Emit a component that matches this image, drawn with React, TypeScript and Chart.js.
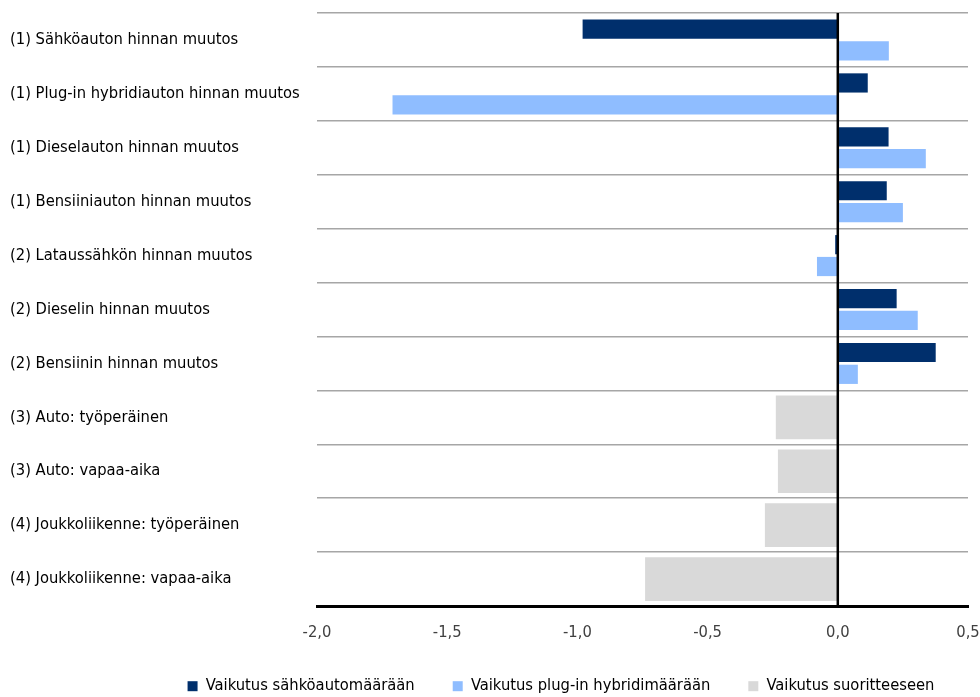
import React, { useEffect, useRef } from "react";
import { Chart, registerables } from "chart.js";

Chart.register(...registerables);

const categories = [
  "(1) Sähköauton hinnan muutos",
  "(1) Plug-in hybridiauton hinnan muutos",
  "(1) Dieselauton hinnan muutos",
  "(1) Bensiiniauton hinnan muutos",
  "(2) Lataussähkön hinnan muutos",
  "(2) Dieselin hinnan muutos",
  "(2) Bensiinin hinnan muutos",
  "(3) Auto: työperäinen",
  "(3) Auto: vapaa-aika",
  "(4) Joukkoliikenne: työperäinen",
  "(4) Joukkoliikenne: vapaa-aika",
];

const seriesNames = [
  "Vaikutus sähköautomäärään",
  "Vaikutus plug-in hybridimäärään",
  "Vaikutus suoritteeseen",
];

const sahkoauto = [-0.98, 0.115, 0.195, 0.188, -0.01, 0.226, 0.376, null, null, null, null];
const hybridi = [0.196, -1.71, 0.338, 0.25, -0.08, 0.307, 0.077, null, null, null, null];
const suorite = [null, null, null, null, null, null, null, -0.238, -0.23, -0.28, -0.74];

const xTicks = [-2.0, -1.5, -1.0, -0.5, 0.0, 0.5];

const FONT = "'Liberation Sans Narrow', 'DejaVu Sans Condensed', 'Arial Narrow', sans-serif";

const zeroLinePlugin = {
  id: "zeroLine",
  afterLayout(chart: any) {
    const lg = chart.legend;
    if (lg) {
      lg.left += 84;
      lg.right += 60;
      lg.top -= 11;
      lg.bottom = chart.height;
    }
  },
  afterDatasetsDraw(chart: any) {
    const x = chart.scales.x;
    const area = chart.chartArea;
    const px = x.getPixelForValue(0);
    const ctx = chart.ctx;
    ctx.save();
    ctx.strokeStyle = "#000000";
    ctx.lineWidth = 2.5;
    ctx.beginPath();
    ctx.moveTo(px, area.top);
    ctx.lineTo(px, area.bottom);
    ctx.stroke();
    ctx.restore();
  },
};

export default function App() {
  const ref = useRef<HTMLCanvasElement | null>(null);

  useEffect(() => {
    document.body.style.margin = "0";
    const canvas = ref.current;
    if (!canvas) return;
    const chart = new Chart(canvas, {
      type: "bar",
      data: {
        labels: categories,
        datasets: [
          {
            label: seriesNames[0],
            data: sahkoauto,
            backgroundColor: "#002f6c",
            barPercentage: 0.88,
            categoryPercentage: 0.81,
          },
          {
            label: seriesNames[1],
            data: hybridi,
            backgroundColor: "#8fbdff",
            barPercentage: 0.88,
            categoryPercentage: 0.81,
          },
          {
            label: seriesNames[2],
            data: suorite,
            backgroundColor: "#d9d9d9",
            barPercentage: 1.0,
            categoryPercentage: 0.81,
          },
        ],
      },
      plugins: [zeroLinePlugin],
      options: {
        indexAxis: "y",
        animation: false,
        responsive: false,
        skipNull: true,
        layout: { padding: { left: 10, right: 12, top: 13, bottom: 6 } },
        scales: {
          x: {
            type: "linear",
            min: -2,
            max: 0.5,
            afterBuildTicks: (scale: any) => {
              scale.ticks = xTicks.map((v) => ({ value: v }));
            },
            afterFit: (scale: any) => {
              scale.height = 45;
              scale.paddingRight = 0;
              scale.paddingLeft = 0;
            },
            ticks: {
              color: "#404040",
              font: { family: FONT, size: 16.4 },
              padding: 17,
              maxRotation: 0,
              callback: (v: any) => Number(v).toFixed(1).replace(".", ","),
            },
            grid: { display: false, drawTicks: false },
            border: { display: true, color: "#000000", width: 3 },
          },
          y: {
            type: "category",
            afterFit: (scale: any) => {
              scale.width = 307;
            },
            ticks: {
              color: "#000000",
              crossAlign: "far",
              font: { family: FONT, size: 16.4 },
              padding: 0,
            },
            grid: {
              display: true,
              color: "#a6a6a6",
              lineWidth: 1.5,
              drawTicks: false,
              offset: true,
            },
            border: { display: false },
          },
        },
        plugins: {
          legend: {
            position: "bottom",
            maxHeight: 40,
            labels: {
              boxWidth: 10,
              boxHeight: 10,
              padding: 38,
              color: "#000000",
              font: { family: FONT, size: 16.4 },
            },
          },
          tooltip: { enabled: false },
        },
      },
    } as any);
    return () => chart.destroy();
  }, []);

  return (
    <div style={{ width: 980, height: 697 }}>
      <canvas ref={ref} width={980} height={697} style={{ display: "block" }} />
    </div>
  );
}
